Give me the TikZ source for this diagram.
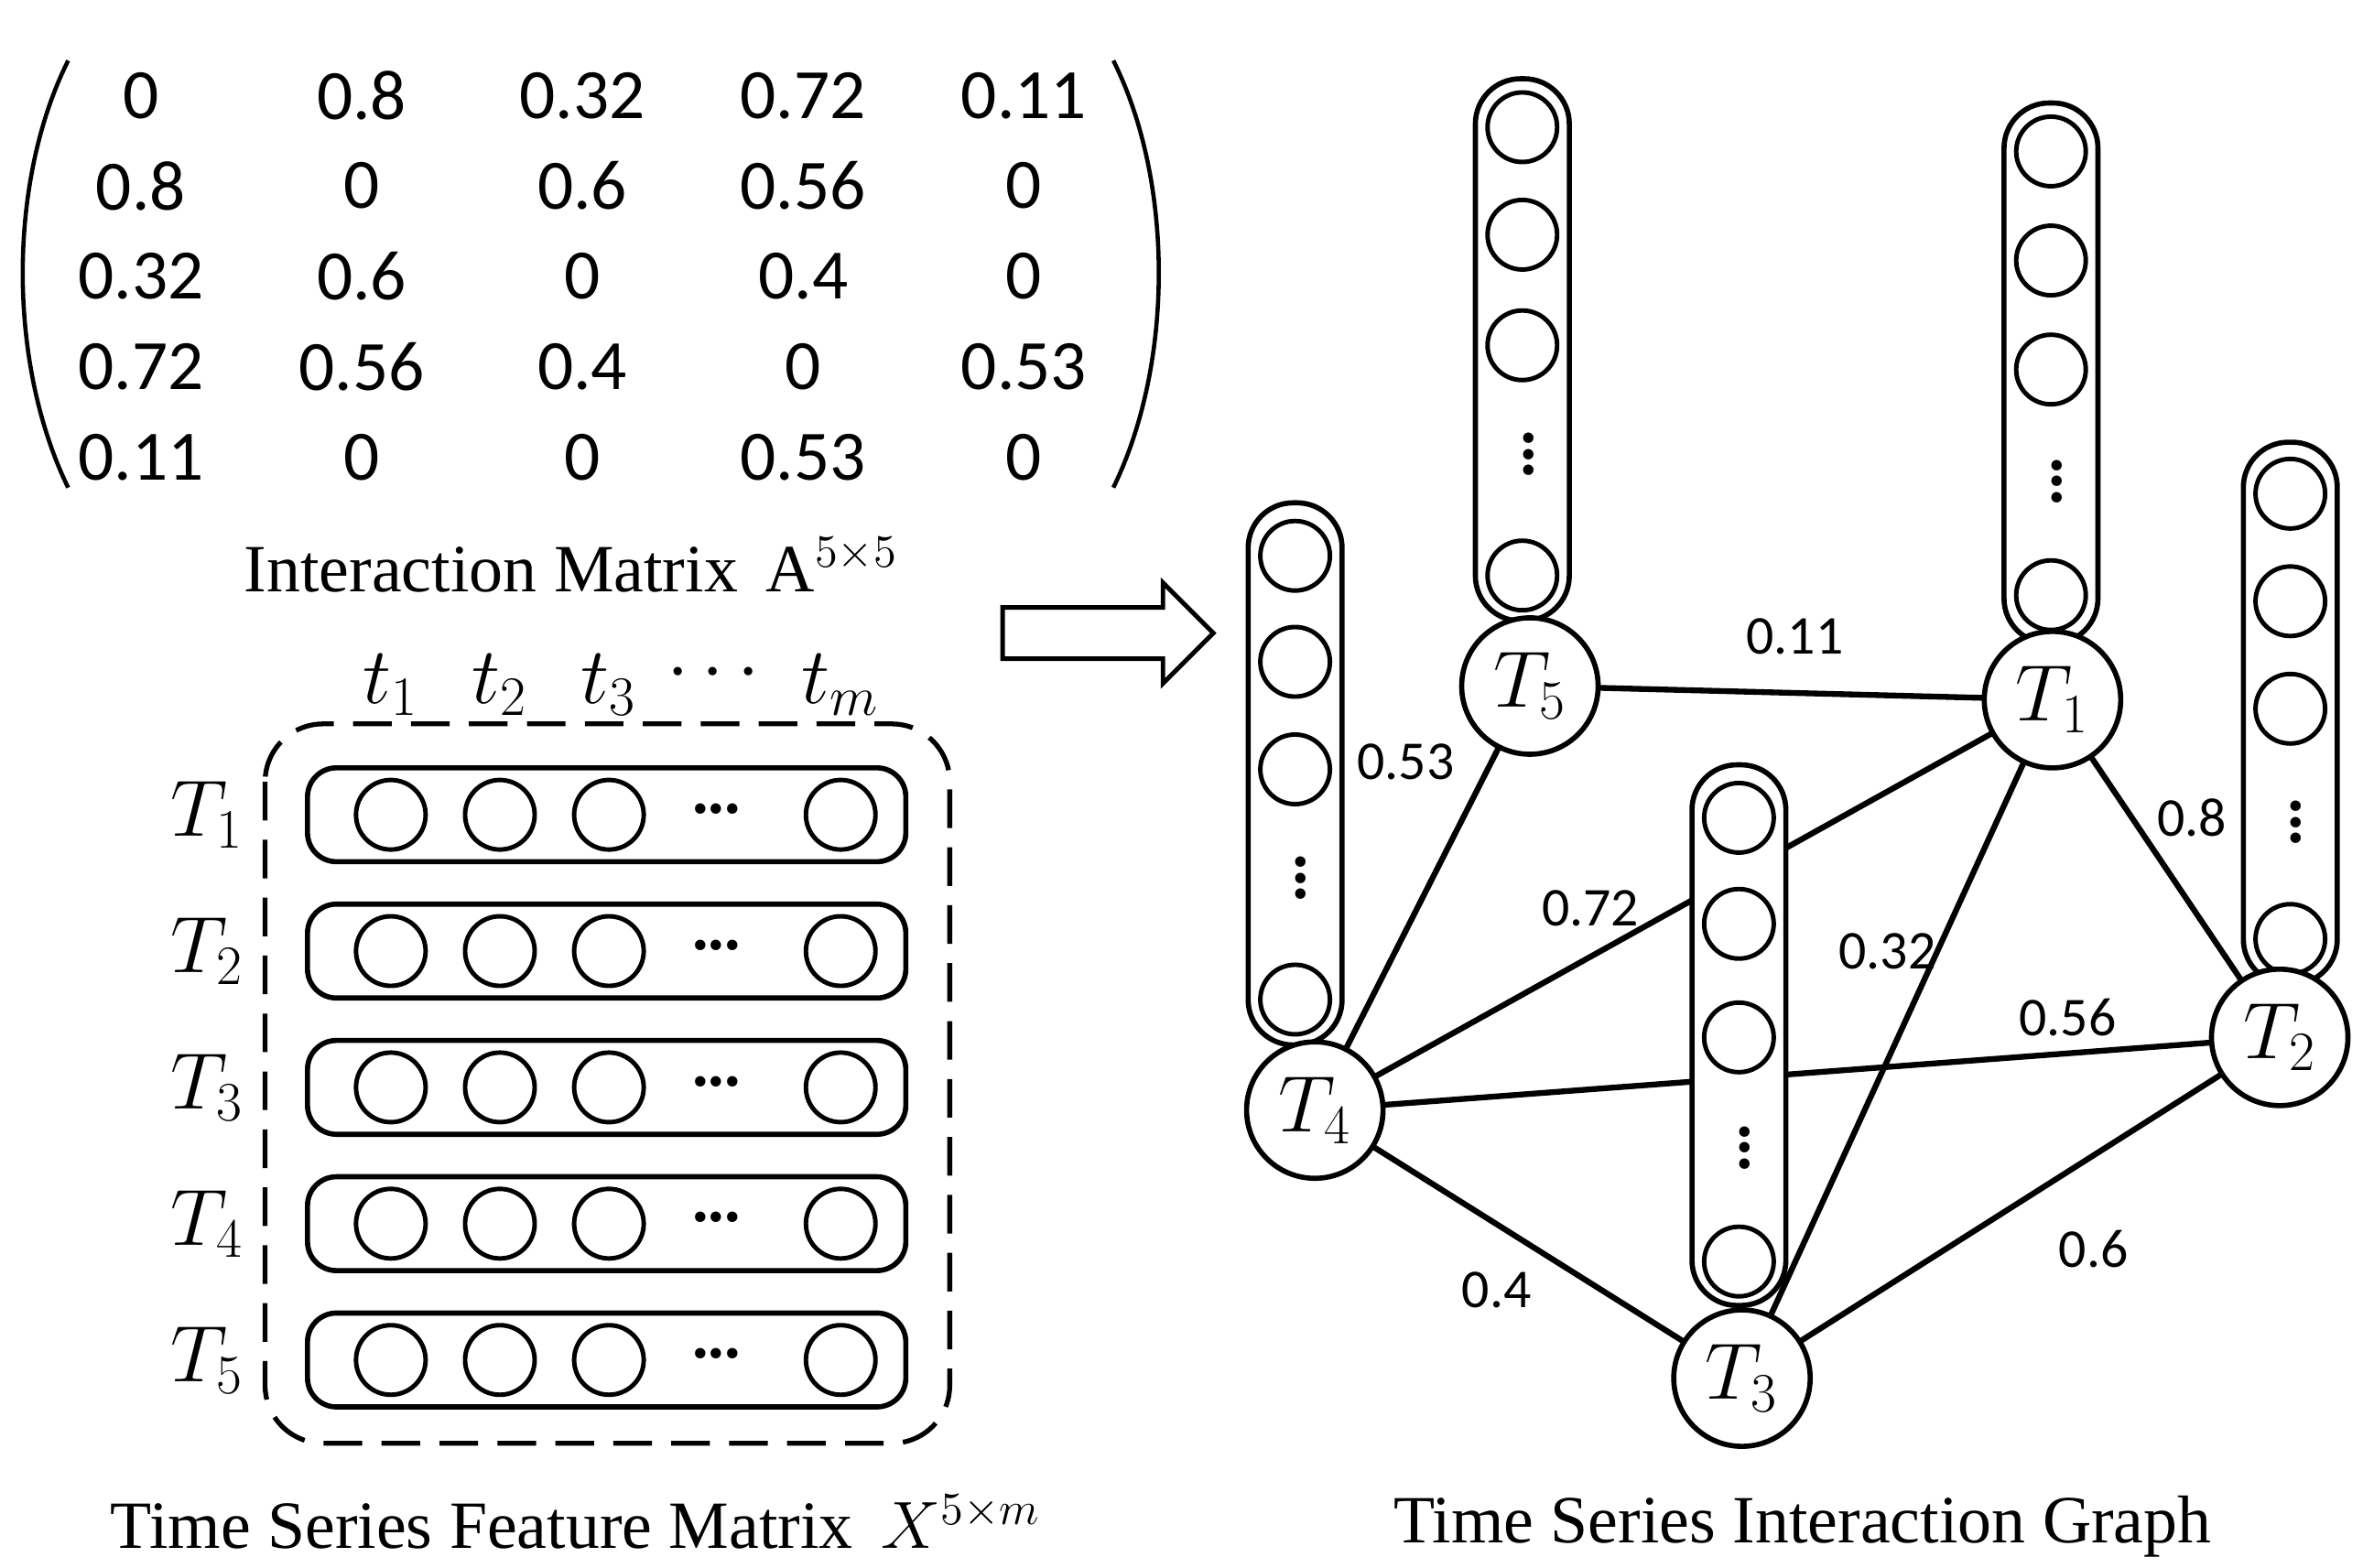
\documentclass[tikz,border=0pt]{standalone}
\usepackage{fontspec}
\setmainfont{Liberation Serif}
\newfontfamily\carfont{Carlito}
\usetikzlibrary{shapes.arrows}
\begin{document}
\begin{tikzpicture}[x=0.016545cm,y=-0.016545cm,
  num/.style={font=\carfont\fontsize{22}{26}\selectfont},
  captxt/.style={font=\fontsize{21}{25}\selectfont},
  cell/.style={circle,draw,line width=1.4pt,minimum size=0.76cm,inner sep=0},
  row/.style={draw,line width=1.6pt,rounded corners=9pt},
  gnode/.style={circle,draw,line width=1.6pt,fill=white,minimum size=1.49cm,inner sep=0,font=\itshape\fontsize{24}{28}\selectfont},
  edge/.style={line width=1.8pt},
  el/.style={font=\carfont\fontsize{17}{20}\selectfont},
  lab/.style={font=\itshape\fontsize{24}{28}\selectfont}]
\useasboundingbox (0,0) rectangle (1560,1035);
% matrix
\foreach \r [count=\i] in {{0,0.8,0.32,0.72,0.11},{0.8,0,0.6,0.56,0},{0.32,0.6,0,0.4,0},{0.72,0.56,0.4,0,0.53},{0.11,0,0,0.53,0}}{
  \foreach \v [count=\j] in \r {
    \pgfmathsetmacro\xx{93+145.75*(\j-1)}
    \pgfmathsetmacro\yy{63+59.75*(\i-1)}
    \node[num] (m\i\j) at (\xx,\yy) {\v};
  }}
\draw[line width=1.3pt] (45,40) .. controls (5,120) and (5,240) .. (45,322);
\draw[line width=1.3pt] (735,40) .. controls (775,120) and (775,240) .. (735,322);
\node[captxt] (cA) at (377,373) {Interaction Matrix\, A$^{5\times5}$};
% feature matrix
\draw[line width=1.5pt,dash pattern=on 12pt off 6pt,rounded corners=18pt] (175,478) rectangle (627,953);
\foreach \tt/\x/\s in {1/258/1,2/330/2,3/402/3,m/555/m}{
  \node[lab] (t\tt) at (\x,452) {$t_{\s}$};}
\node[font=\fontsize{24}{28}\selectfont] (tdots) at (471,445) {$\cdots$};
\foreach \k in {1,...,5}{
  \pgfmathsetmacro\yy{538+90*(\k-1)}
  \draw[row] (203,\yy-31) rectangle (598,\yy+31);
  \foreach \x [count=\c] in {258,330,402,555}{ \node[cell] (c\k\c) at (\x,\yy) {}; }
  \node[font=\bfseries\fontsize{20}{24}\selectfont] (d\k) at (473,\yy-4) {...};
  \node[lab] (T\k) at (137,\yy) {$T_{\k}$};
}
\node[captxt] (cX) at (380,1005) {Time Series Feature Matrix\, $X^{5\times m}$};
% arrow
\node[single arrow,draw,line width=1.4pt,minimum height=2.3cm,minimum width=1.1cm,single arrow head extend=0.12cm,inner sep=0.1cm] (arr) at (723,418) {};
% graph nodes positions
\coordinate (p5) at (1010,453); \coordinate (p1) at (1355,462); \coordinate (p4) at (868,733);
\coordinate (p2) at (1505,685); \coordinate (p3) at (1150,910);
\draw[edge] (p5)--(p1); \draw[edge] (p5)--(p4); \draw[edge] (p4)--(p1); \draw[edge] (p4)--(p2);
\draw[edge] (p4)--(p3); \draw[edge] (p1)--(p3); \draw[edge] (p1)--(p2); \draw[edge] (p2)--(p3);
\node[el] (l011) at (1185,420) {0.11}; \node[el] (l053) at (928,503) {0.53};
\node[el] (l072) at (1050,600) {0.72}; \node[el] (l056) at (1365,672) {0.56};
\node[el] (l04) at (988,852) {0.4}; \node[el] (l032) at (1246,628) {0.32};
\node[el] (l08) at (1447,540) {0.8}; \node[el] (l06) at (1382,825) {0.6};
% stacks
\foreach \n/\x/\ya/\yb/\ca/\cb/\cc/\dd/\ce in {4/855/332/690/367/437/508/580/660, 5/1005/52/410/84/155/228/300/380, 1/1354/68/425/100/172/244/318/393, 2/1512/292/650/326/397/468/543/620, 3/1148/505/862/540/610/685/758/833}{
  \draw[line width=1.6pt,fill=white,rounded corners=14pt] (\x-31,\ya) rectangle (\x+31,\yb);
  \foreach \y in {\ca,\cb,\cc,\ce}{ \node[cell] at (\x,\y) {}; }
  \node[font=\bfseries\fontsize{20}{24}\selectfont,rotate=90] (v\n) at (\x+4,\dd) {...};
}
\node[gnode] (G5) at (p5) {$T_5$}; \node[gnode] (G1) at (p1) {$T_1$};
\node[gnode] (G4) at (p4) {$T_4$}; \node[gnode] (G2) at (p2) {$T_2$};
\node[gnode] (G3) at (p3) {$T_3$};
\node[captxt] (cG) at (1190,1008) {Time Series Interaction Graph};
\end{tikzpicture}
\end{document}
